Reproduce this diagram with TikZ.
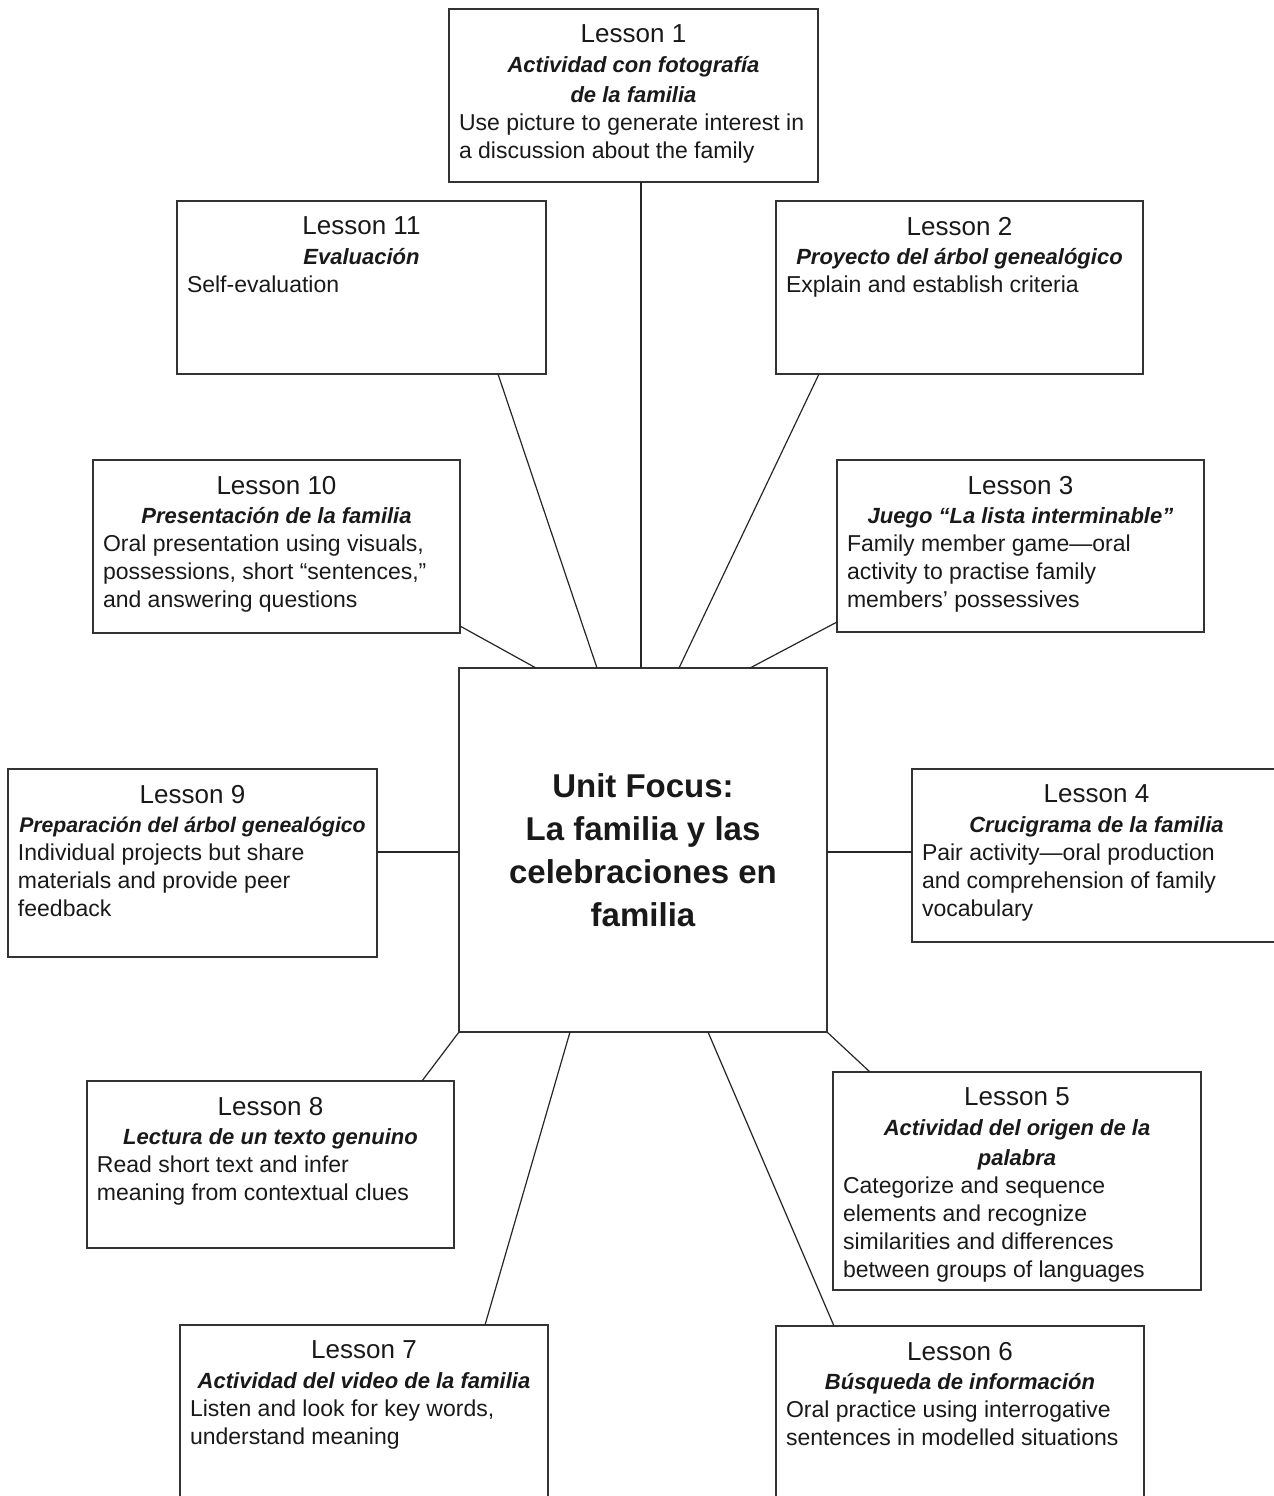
\documentclass[tikz,border=0pt]{standalone}
\usepackage{fontspec}
\setmainfont{Liberation Sans}
\usepackage{tikz}
\usetikzlibrary{calc}

% box text: width (px), height (px), number, activity, description
\newcommand{\lsnbox}[5]{%
  \parbox[t][\dimexpr #2pt/2-16pt\relax][t]{\dimexpr #1pt/2-10pt\relax}{%
    {\centering\fontsize{13}{16}\selectfont Lesson #3\par
      \fontsize{11}{14.8}\selectfont\bfseries\itshape #4\par}%
    \fontsize{11.5}{14}\selectfont\raggedright #5\par}}

\begin{document}
\begin{tikzpicture}[x=0.5pt, y=-0.5pt,
        lessonbox/.style={draw=black!80, line width=1pt, anchor=north west, inner xsep=5pt, inner ysep=8pt, outer sep=0pt, text=black!90},
        focusbox/.style={draw=black!80, line width=1pt, anchor=north west, minimum width=184pt, minimum height=182pt, inner sep=0pt, outer sep=0pt, align=center, font=\fontsize{16.5}{21.5}\selectfont\bfseries, text=black!90},
        spoke/.style={draw=black!85, line width=0.6pt}]
                \useasboundingbox (0,0) rectangle (1274,1496);

                \node[focusbox] (focus) at (459,668) {Unit Focus:\\La familia y las\\celebraciones en\\familia};

                \node[lessonbox] (l1) at (449,9) {\lsnbox{369}{173}{1}{Actividad con fotografía\\de la familia}{Use picture to generate interest in\\a discussion about the family}};
                \node[lessonbox] (l11) at (177,201) {\lsnbox{369}{173}{11}{Evaluación}{Self-evaluation}};
                \node[lessonbox] (l2) at (776,201) {\lsnbox{367}{173}{2}{Proyecto del árbol genealógico}{Explain and establish criteria}};
                \node[lessonbox] (l10) at (93,460) {\lsnbox{367}{173}{10}{Presentación de la familia}{Oral presentation using visuals,\\possessions, short “sentences,”\\and answering questions}};
                \node[lessonbox] (l3) at (837,460) {\lsnbox{367}{172}{3}{Juego “La lista interminable”}{Family member game—oral\\activity to practise family\\members’ possessives}};
                \node[lessonbox] (l9) at (8,769) {\lsnbox{369}{188}{9}{\makebox[\linewidth]{\fontsize{10.6}{14.8}\selectfont Preparación del árbol genealógico}}{Individual projects but share\\materials and provide peer\\feedback}};
                \node[lessonbox] (l4) at (912,769) {\lsnbox{369}{173}{4}{Crucigrama de la familia}{Pair activity—oral production\\and comprehension of family\\vocabulary}};
                \node[lessonbox] (l8) at (87,1081) {\lsnbox{367}{167}{8}{Lectura de un texto genuino}{Read short text and infer\\meaning from contextual clues}};
                \node[lessonbox] (l5) at (833,1072) {\lsnbox{368}{218}{5}{Actividad del origen de la\\palabra}{Categorize and sequence\\elements and recognize\\similarities and differences\\between groups of languages}};
                % bottom row runs off the page
                \node[lessonbox] (l7) at (180,1325) {\lsnbox{368}{185}{7}{Actividad del video de la familia}{Listen and look for key words,\\understand meaning}};
                \node[lessonbox] (l6) at (776,1326) {\lsnbox{368}{185}{6}{Búsqueda de información}{Oral practice using interrogative\\sentences in modelled situations}};

                \draw[spoke, line width=1pt] ($(l1.south west)+(192,0)$) -- ($(focus.north west)+(182,0)$);
                \draw[spoke] ($(l11.south west)+(321,0)$) -- ($(focus.north west)+(138,0)$);
                \draw[spoke] ($(l2.south west)+(43,0)$) -- ($(focus.north west)+(220,0)$);
                \draw[spoke] ($(l10.north east)+(0,166)$) -- ($(focus.north west)+(77,0)$);
                \draw[spoke] ($(l3.north west)+(0,162)$) -- ($(focus.north west)+(291,0)$);
                \draw[spoke] ($(l9.north east)+(0,83)$) -- ($(focus.north west)+(0,184)$);
                \draw[spoke] ($(l4.north west)+(0,83)$) -- ($(focus.north east)+(0,184)$);
                \draw[spoke] ($(l8.north west)+(335,0)$) -- (focus.south west);
                \draw[spoke] ($(l5.north west)+(37,0)$) -- (focus.south east);
                \draw[spoke] ($(l7.north west)+(305,0)$) -- ($(focus.south west)+(111,0)$);
                \draw[spoke] ($(l6.north west)+(58,0)$) -- ($(focus.south west)+(249,0)$);
\end{tikzpicture}
\end{document}
